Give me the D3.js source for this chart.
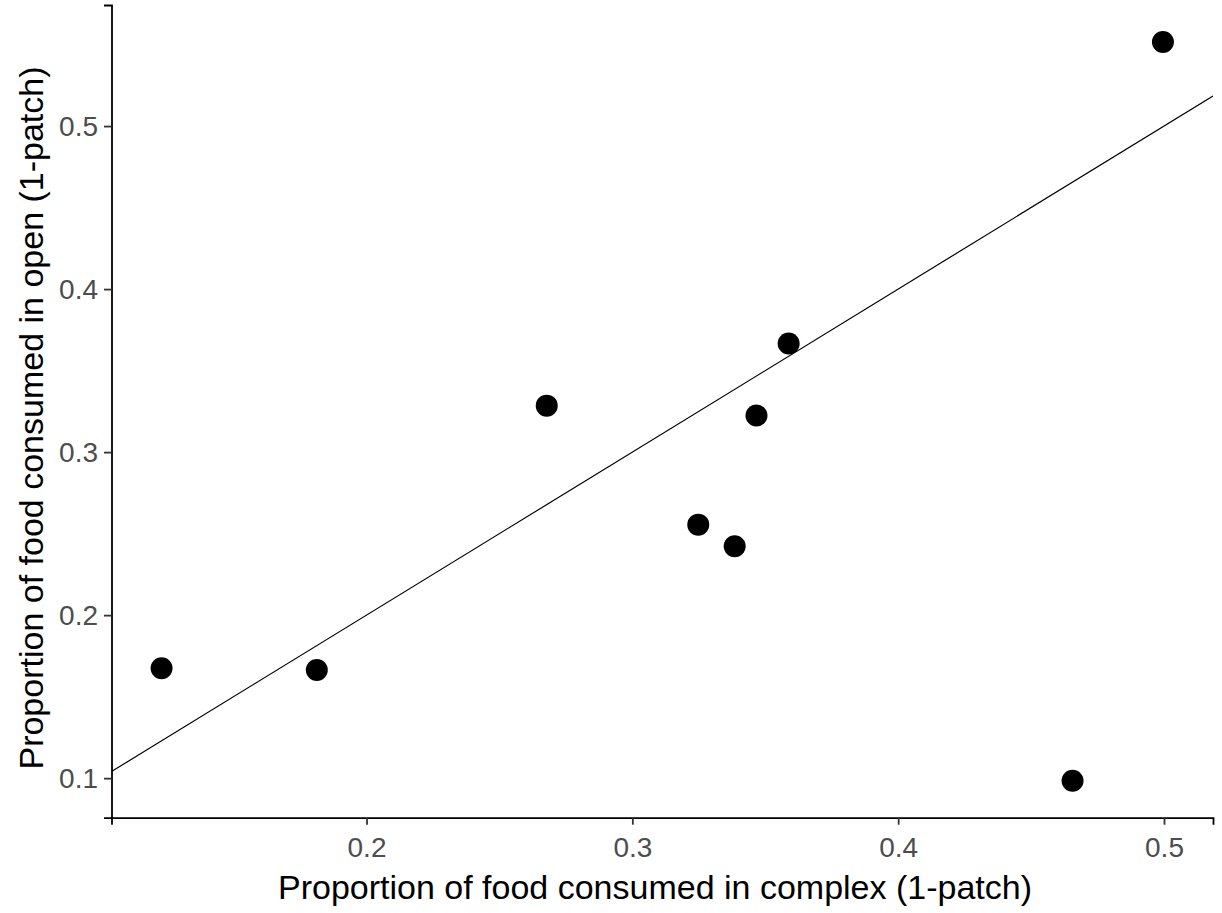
<!DOCTYPE html>
<html>
<head>
<meta charset="utf-8">
<script src="https://cdn.jsdelivr.net/npm/d3@7"></script>
<style>
  html, body { margin: 0; padding: 0; background: #fff; }
  svg { display: block; font-family: "Liberation Sans", Arial, sans-serif; }
</style>
</head>
<body>
<svg id="chart" width="1222" height="913"></svg>
<script>
// Proportion of food consumed in the complex vs open patch (1-patch trials)
const complexProp = [0.1229, 0.1813, 0.2678, 0.3248, 0.3385, 0.3467, 0.3588, 0.4656, 0.4996];
const openProp    = [0.1674, 0.1664, 0.3285, 0.2555, 0.2422, 0.3225, 0.3666, 0.0984, 0.5516];
const xTicks = [0.2, 0.3, 0.4, 0.5];
const yTicks = [0.1, 0.2, 0.3, 0.4, 0.5];
const xTitle = "Proportion of food consumed in complex (1-patch)";
const yTitle = "Proportion of food consumed in open (1-patch)";

const points = complexProp.map((x, i) => ({ x, y: openProp[i] }));

const svg = d3.select("#chart");
const panel = { left: 111.5, right: 1213, top: 5, bottom: 817.7 };

// 5% padding around the data range on each axis
function padded(vals) {
  const [lo, hi] = d3.extent(vals);
  const pad = (hi - lo) * 0.05;
  return [lo - pad, hi + pad];
}

const x = d3.scaleLinear().domain(padded(complexProp)).range([panel.left, panel.right]);
const y = d3.scaleLinear().domain(padded(openProp)).range([panel.bottom, panel.top]);

// clip to the panel so the reference line stops at its edges
svg.append("defs").append("clipPath").attr("id", "panelClip")
  .append("rect")
  .attr("x", panel.left).attr("y", panel.top)
  .attr("width", panel.right - panel.left).attr("height", panel.bottom - panel.top);

// 1:1 line (y = x)
const [x0, x1] = x.domain();
svg.append("line")
  .attr("clip-path", "url(#panelClip)")
  .attr("x1", x(x0)).attr("y1", y(x0))
  .attr("x2", x(x1)).attr("y2", y(x1))
  .attr("stroke", "#000").attr("stroke-width", 1.2);

// points
svg.append("g").selectAll("circle").data(points).join("circle")
  .attr("cx", d => x(d.x)).attr("cy", d => y(d.y))
  .attr("r", 11).attr("fill", "#000");

// axes
const xAxis = svg.append("g")
  .attr("transform", `translate(0,${panel.bottom})`)
  .call(d3.axisBottom(x).tickValues(xTicks).tickFormat(d3.format(".1f")).tickSize(7).tickPadding(12));
const yAxis = svg.append("g")
  .attr("transform", `translate(${panel.left},0)`)
  .call(d3.axisLeft(y).tickValues(yTicks).tickFormat(d3.format(".1f")).tickSize(7.5).tickPadding(6));

[xAxis, yAxis].forEach(g => {
  g.select(".domain").attr("stroke", "#000").attr("stroke-width", 1.8);
  g.selectAll(".tick line").attr("stroke", "#333").attr("stroke-width", 1.8);
  g.selectAll(".tick text")
    .attr("fill", "#4d4d4d")
    .attr("font-size", null)
    .style("font-size", "28px")
    .style("font-family", "'Liberation Sans', Arial, sans-serif");
});

// axis titles
svg.append("text")
  .attr("x", 655).attr("y", 899)
  .attr("text-anchor", "middle")
  .style("font-size", "34px")
  .attr("fill", "#000")
  .text(xTitle);

svg.append("text")
  .attr("transform", "translate(43,418) rotate(-90)")
  .attr("text-anchor", "middle")
  .style("font-size", "34px")
  .attr("fill", "#000")
  .text(yTitle);
</script>
</body>
</html>
